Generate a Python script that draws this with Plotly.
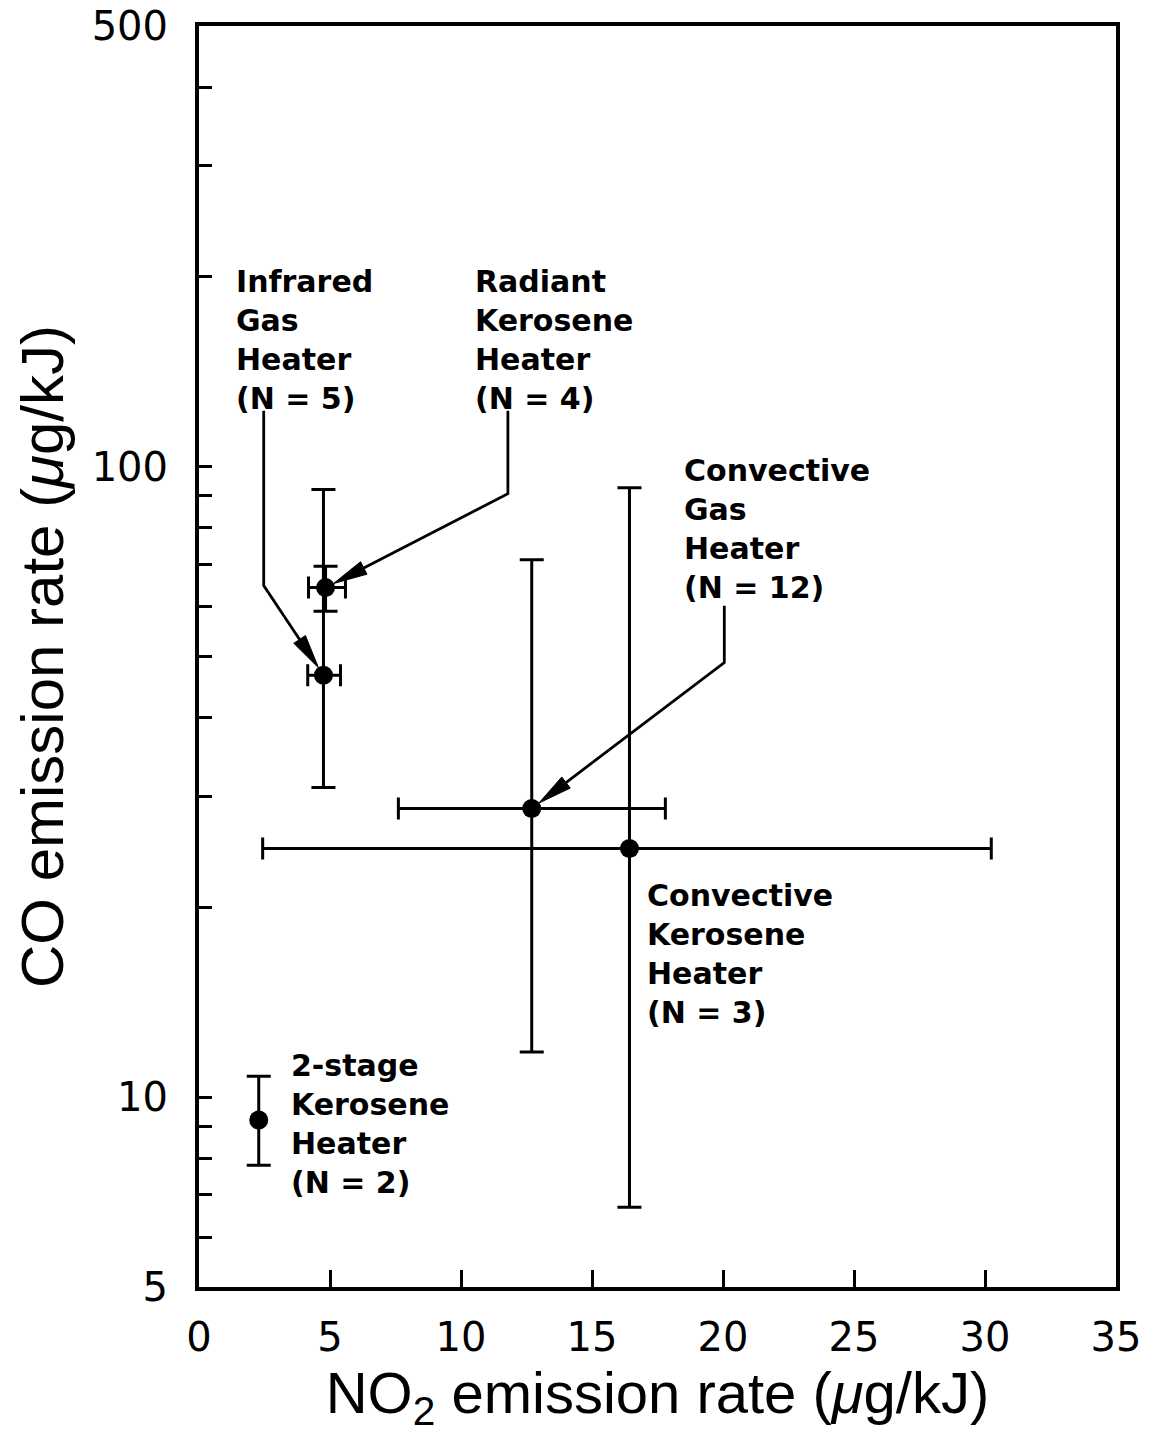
import numpy as np
import plotly.graph_objects as go

# ---------------- data ----------------
heaters = ["Infrared Gas Heater", "Radiant Kerosene Heater", "Convective Gas Heater",
           "Convective Kerosene Heater", "2-stage Kerosene Heater"]
label_lines = [["Infrared", "Gas", "Heater"], ["Radiant", "Kerosene", "Heater"],
               ["Convective", "Gas", "Heater"], ["Convective", "Kerosene", "Heater"],
               ["2-stage", "Kerosene", "Heater"]]
n_units = [5, 4, 12, 3, 2]
no2_mean = [4.75, 4.83, 12.70, 16.43, 2.28]
no2_low = [4.15, 4.18, 7.61, 2.43, None]
no2_high = [5.40, 5.59, 17.80, 30.24, None]
co_mean = [46.7, 64.3, 28.7, 24.8, 9.20]
co_low = [31.0, 59.0, 11.8, 6.69, 7.80]
co_high = [92.0, 69.5, 71.2, 92.6, 10.8]

x_tickvals = [0, 5, 10, 15, 20, 25, 30, 35]
y_tickvals = [5, 6, 7, 8, 9, 10, 20, 30, 40, 50, 60, 70, 80, 90, 100, 200, 300, 400, 500]
y_ticktext = ["5", "", "", "", "", "10", "", "", "", "", "", "", "", "", "100", "", "", "", "500"]

# label placement (left x in data units, vertical centre in data units)
label_pos = [(1.35, 159.0), (10.45, 159.0), (18.45, 79.6), (17.02, 16.9), (3.45, 9.06)]
# leader lines: polyline from label to the point (last point = the marker)
leader_paths = {0: [(2.47, 122.7), (2.47, 64.8)],
                1: [(11.79, 122.7), (11.79, 90.6)],
                2: [(20.05, 60.2), (20.05, 48.9)]}

# ---------------- layout geometry ----------------
# (the page body adds a small offset, so the figure is 8 px smaller and margins shifted)
FIG_W, FIG_H = 1144, 1426
ML, MR, MT, MB = 191, 36, 18, 147
PW, PH = FIG_W - ML - MR, FIG_H - MT - MB
XR = (0, 35)
YR = (np.log10(5), np.log10(500))


def to_px(x, y):
    return ((x - XR[0]) / (XR[1] - XR[0]) * PW,
            (np.log10(y) - YR[0]) / (YR[1] - YR[0]) * PH)


def from_px(px, py):
    return (XR[0] + px / PW * (XR[1] - XR[0]),
            10 ** (YR[0] + py / PH * (YR[1] - YR[0])))


fig = go.Figure()

# leader lines and arrowheads
for i, path in leader_paths.items():
    tgt = (no2_mean[i], co_mean[i])
    corner = path[-1]
    cx, cy = to_px(*corner)
    tx, ty = to_px(*tgt)
    d = np.array([tx - cx, ty - cy])
    d = d / np.linalg.norm(d)
    nrm = np.array([-d[1], d[0]])
    tip = np.array([tx, ty]) - d * 9
    base = tip - d * 34
    p1 = base + nrm * 7
    p2 = base - nrm * 7
    tipd = from_px(*tip)
    based = from_px(*base)
    xs = [p[0] for p in path] + [based[0]]
    ys = [p[1] for p in path] + [based[1]]
    fig.add_trace(go.Scatter(x=xs, y=ys, mode="lines", line=dict(color="black", width=2.8),
                             hoverinfo="skip", showlegend=False))
    poly = [tipd, from_px(*p1), from_px(*p2), tipd]
    fig.add_trace(go.Scatter(x=[p[0] for p in poly], y=[p[1] for p in poly], mode="lines",
                             fill="toself", fillcolor="black", line=dict(color="black", width=1),
                             hoverinfo="skip", showlegend=False))

# points with error bars
for i, name in enumerate(heaters):
    ex = None
    if no2_low[i] is not None:
        ex = dict(type="data", symmetric=False, array=[no2_high[i] - no2_mean[i]],
                  arrayminus=[no2_mean[i] - no2_low[i]], color="black", thickness=3, width=11)
    ey = dict(type="data", symmetric=False, array=[co_high[i] - co_mean[i]],
              arrayminus=[co_mean[i] - co_low[i]], color="black", thickness=3, width=12)
    fig.add_trace(go.Scatter(x=[no2_mean[i]], y=[co_mean[i]], mode="markers", name=name,
                             marker=dict(color="black", size=19),
                             error_x=ex, error_y=ey, showlegend=False))

# labels
for i, lines in enumerate(label_lines):
    txt = "<br>".join(lines + [f"(N = {n_units[i]})"])
    lx, ly = label_pos[i]
    fig.add_annotation(x=lx, y=np.log10(ly), xref="x", yref="y", text=txt, showarrow=False,
                       xanchor="left", yanchor="middle", align="left",
                       font=dict(family="DejaVu Sans", size=30, color="black", weight="bold"))

axis_common = dict(showgrid=False, zeroline=False, showline=True, linecolor="black", linewidth=4,
                   mirror=True, ticks="inside", tickcolor="black", tickwidth=2.5, automargin=False,
                   ticklabeloverflow="allow",
                   tickfont=dict(family="DejaVu Sans", size=40, color="black"))

fig.update_xaxes(range=list(XR), tickvals=x_tickvals, ticklen=17, ticklabelstandoff=12,
                 title=dict(text="NO<sub>2</sub> emission rate (<i>μ</i>g/kJ)",
                            font=dict(family="Liberation Sans", size=58, color="black"), standoff=4),
                 **axis_common)
fig.update_yaxes(type="log", range=list(YR), tickvals=y_tickvals, ticktext=y_ticktext, ticklen=13,
                 ticklabelstandoff=19,
                 title=dict(text="CO emission rate (<i>μ</i>g/kJ)",
                            font=dict(family="Liberation Sans", size=60, color="black"), standoff=10),
                 **axis_common)

fig.update_layout(width=FIG_W, height=FIG_H, margin=dict(l=ML, r=MR, t=MT, b=MB, pad=0),
                  paper_bgcolor="white", plot_bgcolor="white", showlegend=False)

fig.write_html("out.html")
